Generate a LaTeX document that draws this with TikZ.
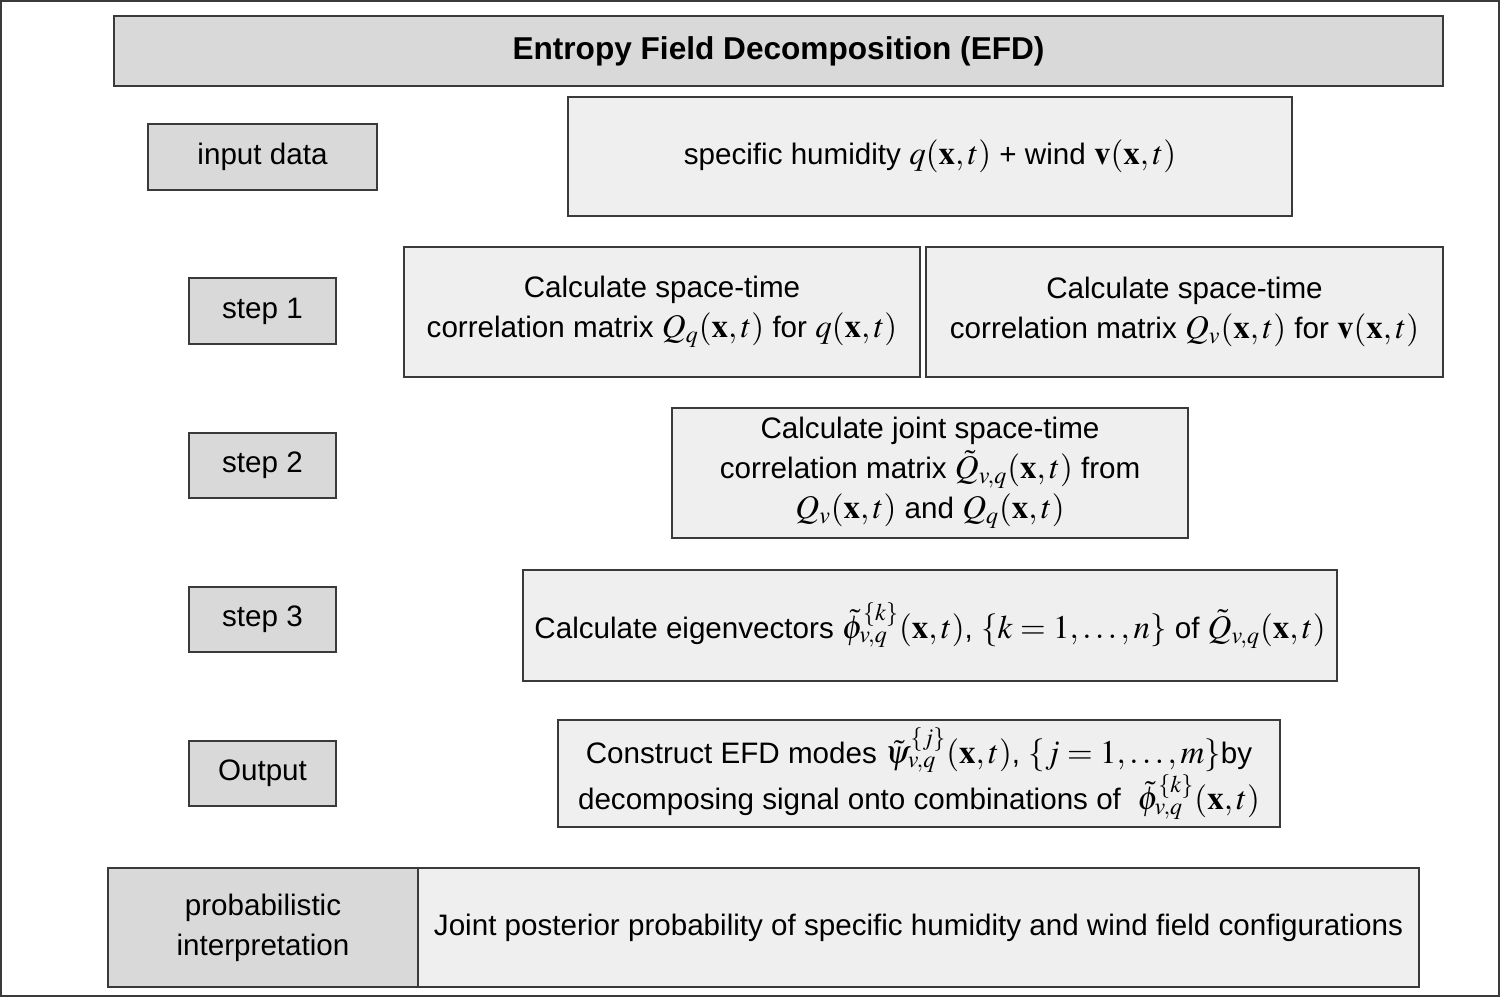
\documentclass[tikz,border=0pt]{standalone}
\usepackage{mathptmx}
\usepackage{fontspec}
\setmainfont{Liberation Sans}
\DeclareMathSizes{14.8}{16.5}{12}{10}
\definecolor{dgray}{HTML}{D9D9D9}
\definecolor{lgray}{HTML}{EFEFEF}
\definecolor{edge}{HTML}{3A3A3A}
\newcommand{\bx}{\mathbf{x}}
\tikzset{
  base/.style={draw=edge, line width=0.7pt, align=center, inner sep=2pt,
    font=\fontsize{14.8}{20}\selectfont},
  labelbox/.style={base, fill=dgray},
  contentbox/.style={base, fill=lgray},
}
\begin{document}
\begin{tikzpicture}[x=0.5pt,y=-0.5pt]
\useasboundingbox (0,0) rectangle (1500,997);
\draw[edge, line width=1.2pt] (1,1) rectangle (1499,996);
\node[labelbox, minimum width=664.5pt, minimum height=35pt, font=\fontsize{15.8}{20}\selectfont\bfseries] (title) at (778.5,51) {Entropy Field Decomposition (EFD)};
\node[labelbox, minimum width=114.5pt, minimum height=33pt] (input) at (262.5,157) {input data};
\node[contentbox, minimum width=362pt, minimum height=59.5pt] (hum) at (930,156.5) {specific humidity $q(\bx,t)$ + wind $\mathbf{v}(\bx,t)$};
\node[labelbox, minimum width=73.5pt, minimum height=33pt] (s1) at (262.5,311) {step 1};
\node[contentbox, minimum width=258pt, minimum height=65pt] (s1l) at (662,312) {Calculate space-time\\correlation matrix $Q_q(\bx,t)$ for $q(\bx,t)$};
\node[contentbox, minimum width=258.5pt, minimum height=65pt] (s1r) at (1184.5,312) {Calculate space-time\\correlation matrix $Q_v(\bx,t)$ for $\mathbf{v}(\bx,t)$};
\node[labelbox, minimum width=73.5pt, minimum height=32.5pt] (s2) at (262.5,465.5) {step 2};
\node[contentbox, minimum width=258pt, minimum height=65pt] (s2b) at (930,473) {Calculate joint space-time\\correlation matrix $\tilde{Q}_{v,q}(\bx,t)$ from\\$Q_v(\bx,t)$ and $Q_q(\bx,t)$};
\node[labelbox, minimum width=73.5pt, minimum height=32.5pt] (s3) at (262.5,619.5) {step 3};
\node[contentbox, minimum width=407pt, minimum height=55.5pt] (s3b) at (930,625.5) {Calculate eigenvectors $\tilde{\phi}^{\{k\}}_{v,q}(\bx,t)$, $\{k=1,\ldots,n\}$ of $\tilde{Q}_{v,q}(\bx,t)$};
\node[labelbox, minimum width=73.5pt, minimum height=32.5pt] (out) at (262.5,773.5) {Output};
\node[contentbox, minimum width=361pt, minimum height=53.5pt] (outb) at (919,773.5) {Construct EFD modes $\tilde{\psi}^{\{j\}}_{v,q}(\bx,t)$, $\{j=1,\ldots,m\}$by\\decomposing signal onto combinations of~ $\tilde{\phi}^{\{k\}}_{v,q}(\bx,t)$};
\node[labelbox, minimum width=155pt, minimum height=59.5pt] (prob) at (263,927.5) {probabilistic\\interpretation};
\node[contentbox, minimum width=500.5pt, minimum height=59.5pt] (joint) at (918.5,927.5) {Joint posterior probability of specific humidity and wind field configurations};
\end{tikzpicture}
\end{document}
